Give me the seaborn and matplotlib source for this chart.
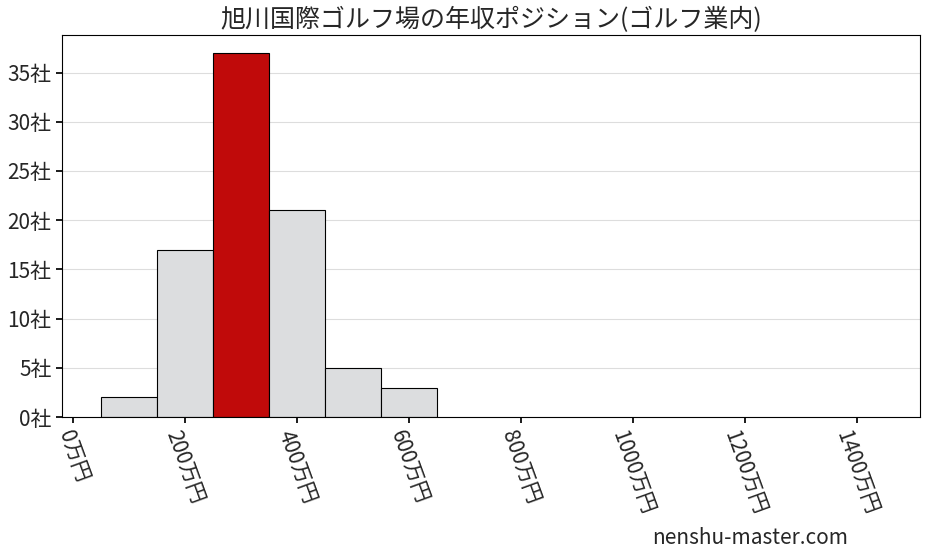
import numpy as np
import pandas as pd
import matplotlib.pyplot as plt
import seaborn as sns

sns.set_theme(style='white')
plt.rcParams['font.family'] = ['Noto Sans CJK JP', 'DejaVu Sans']

# bin centres (万円) and number of companies
centers = [100, 200, 300, 400, 500, 600]
counts = [2, 17, 37, 21, 5, 3]
highlight = 300
xticks = [0, 200, 400, 600, 800, 1000, 1200, 1400]
yticks = [0, 5, 10, 15, 20, 25, 30, 35]
title = '旭川国際ゴルフ場の年収ポジション(ゴルフ業内)'

df = pd.DataFrame({'income': centers, 'n': counts})

fig = plt.figure(figsize=(9.28, 5.57), dpi=100)
ax = fig.add_axes([0.0668, 0.251, 0.9242, 0.686])

sns.histplot(data=df, x='income', weights='n', binwidth=100, binrange=(50, 650),
             color='#dcdddf', alpha=1, edgecolor='black', linewidth=0.8, ax=ax)
for p in ax.patches:
    mid = p.get_x() + p.get_width() / 2
    if abs(mid - highlight) < 1:
        p.set_facecolor('#c00a0a')

ax.set_xlim(-20, 1512)
ax.set_ylim(0, 38.8)
ax.set_xticks(xticks)
ax.set_xticklabels([f'{v}万円' for v in xticks], rotation=-70, fontsize=15)
ax.set_yticks(yticks)
ax.set_yticklabels([f'{v}社' for v in yticks], fontsize=15)
ax.tick_params(axis='both', length=4, color='black', direction='out', bottom=True, left=True)
ax.yaxis.grid(True, color='#dddddd', linewidth=0.8)
ax.set_axisbelow(True)
ax.set_xlabel('')
ax.set_ylabel('')
for s in ax.spines.values():
    s.set_color('black')
    s.set_linewidth(0.8)
ax.set_title(title, fontsize=18, pad=6)
fig.text(0.808, 0.035, 'nenshu-master.com', fontsize=15, ha='center', va='center')

fig.savefig('out.png', dpi=100)
